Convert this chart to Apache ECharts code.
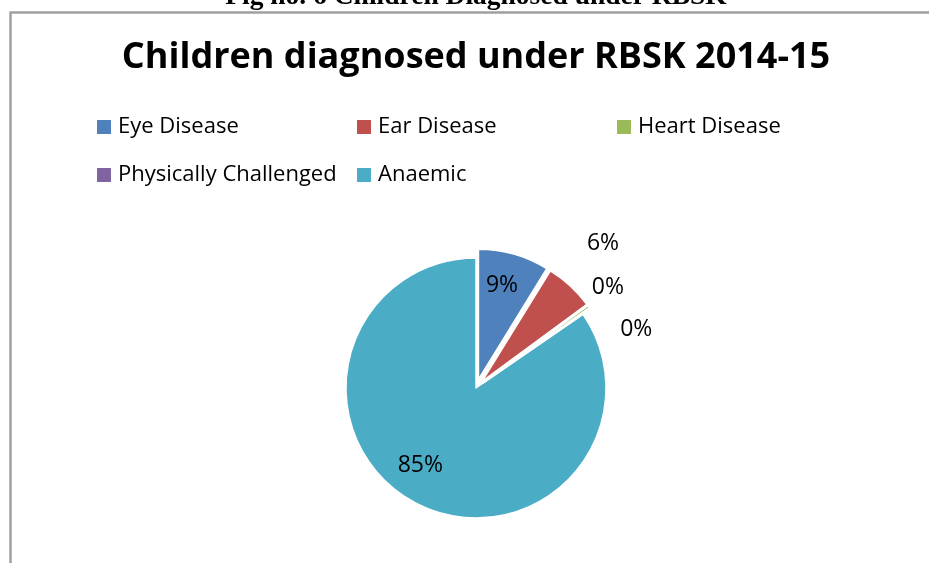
<!DOCTYPE html>
<html>
<head>
<meta charset="utf-8">
<script src="https://cdn.jsdelivr.net/npm/echarts@6/dist/echarts.min.js"></script>
<style>
  html, body { margin: 0; padding: 0; background: #fff; }
  #chart { width: 929px; height: 563px; }
</style>
</head>
<body>
<div id="chart"></div>
<script>
// Share of children diagnosed under RBSK, 2014-15 (percent)
const categories = ['Eye Disease', 'Ear Disease', 'Heart Disease', 'Physically Challenged', 'Anaemic'];
const shares = [8.8, 6.1, 0.3, 0.2, 84.6];
const exploded = [true, true, true, true, false];

const sliceColors = ['#4F81BD', '#C0504D', '#9BBB59', '#8064A2', '#4BACC6'];
const labelPlacement = ['inside', 'outside', 'outside', 'outside', 'inside'];
// nudges that keep the small-slice labels apart
const labelShift = [[5, -28], [5, -35], [-10, -13], [17, 27], [-24, 17]];

const chart = echarts.init(document.getElementById('chart'));

const legendCommon = {
  left: 97,
  orient: 'horizontal',
  padding: 0,
  itemGap: 0,
  itemWidth: 14,
  itemHeight: 14,
  icon: 'rect',
  selectedMode: false,
  itemStyle: { borderWidth: 0 },
  textStyle: {
    fontFamily: 'Open Sans',
    fontSize: 22,
    color: '#000',
    width: 239,
    lineHeight: 26,
    padding: [0, 0, 0, 2],
    overflow: 'none'
  }
};

chart.setOption({
  animation: false,
  backgroundColor: '#fff',
  title: [
    {
      text: 'Fig no. 6 Children Diagnosed under RBSK',
      left: 476,
      textAlign: 'center',
      top: -18,
      padding: 0,
      textStyle: { fontFamily: 'Liberation Serif', fontWeight: 'bold', fontSize: 27.5, lineHeight: 30, color: '#000' }
    },
    {
      text: 'Children diagnosed under RBSK 2014-15',
      left: 476,
      textAlign: 'center',
      top: 38,
      padding: 0,
      textStyle: { fontFamily: 'Open Sans', fontWeight: 'bold', fontSize: 36, lineHeight: 40, color: '#000' }
    }
  ],
  graphic: [
    {
      type: 'rect',
      z: -10,
      shape: { x: 10.5, y: 12.5, width: 1000, height: 700 },
      style: { fill: 'none', stroke: '#a0a0a0', lineWidth: 2.5 }
    }
  ],
  legend: [
    Object.assign({}, legendCommon, { top: 114, data: categories.slice(0, 3) }),
    Object.assign({}, legendCommon, { top: 162, data: categories.slice(3) })
  ],
  series: [
    {
      type: 'pie',
      center: [476, 388],
      radius: 130,
      startAngle: 90,
      clockwise: true,
      selectedMode: 'multiple',
      selectedOffset: 9,
      avoidLabelOverlap: false,
      emphasis: { scale: false },
      itemStyle: { borderColor: '#fff', borderWidth: 1.5 },
      label: {
        color: '#000',
        fontFamily: 'Open Sans',
        fontSize: 23,
        formatter: p => Math.round(p.percent) + '%'
      },
      labelLine: { show: false, length: 10, length2: 0 },
      labelLayout: p => ({ dx: labelShift[p.dataIndex][0], dy: labelShift[p.dataIndex][1] }),
      data: categories.map((name, i) => ({
        name: name,
        value: shares[i],
        selected: exploded[i],
        itemStyle: { color: sliceColors[i] },
        label: { position: labelPlacement[i] }
      }))
    }
  ]
});
</script>
</body>
</html>
